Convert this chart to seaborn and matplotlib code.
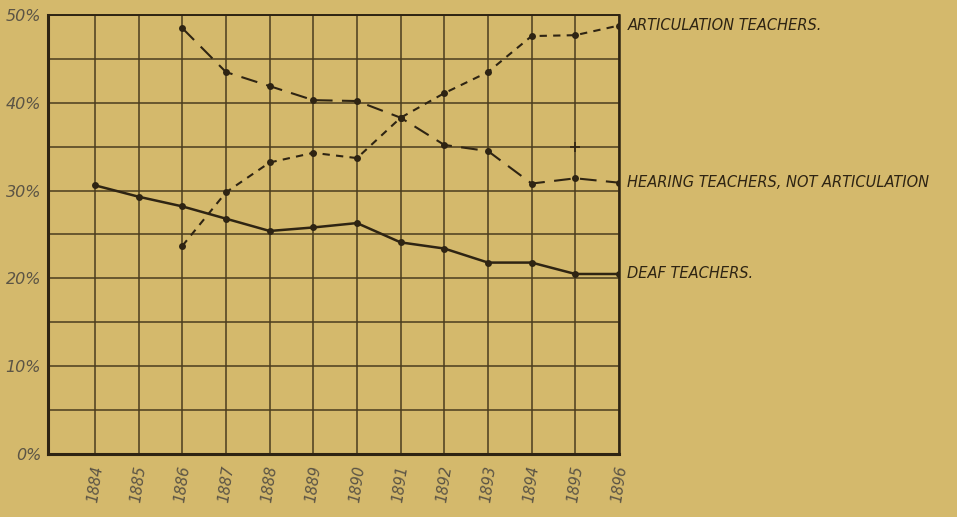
import matplotlib
matplotlib.use("Agg")
import matplotlib.pyplot as plt
import seaborn as sns
import pandas as pd

# values (percent)
years = list(range(1884, 1897))
deaf = [30.6, 29.3, 28.2, 26.8, 25.4, 25.8, 26.3, 24.1, 23.4, 21.8, 21.8, 20.5, 20.5]
hearing_years = list(range(1886, 1897))
hearing = [48.5, 43.5, 41.9, 40.3, 40.2, 38.3, 35.2, 34.5, 30.8, 31.4, 30.9]
artic_years = list(range(1886, 1897))
artic = [23.7, 29.8, 33.2, 34.3, 33.7, 38.3, 41.1, 43.5, 47.6, 47.7, 48.8]
y_labels = ["0%", "10%", "20%", "30%", "40%", "50%"]

bg = "#D4B96C"
ink = "#2e2413"
grid_c = "#4a3d1e"
txt = "#5b5445"

sns.set_theme(style="white")
plt.rcParams["font.family"] = ["DejaVu Sans"]

fig = plt.figure(figsize=(9.57, 5.17), dpi=100, facecolor=bg)
ax = fig.add_axes([0.0502, 0.1219, 0.5966, 0.8491])
ax.set_facecolor(bg)

deaf_df = pd.DataFrame({"year": years, "pct": deaf})
hear_df = pd.DataFrame({"year": hearing_years, "pct": hearing})
art_df = pd.DataFrame({"year": artic_years, "pct": artic})

sns.lineplot(data=deaf_df, x="year", y="pct", ax=ax, color=ink, lw=1.8,
             marker="o", markersize=5, markeredgewidth=0, zorder=5)
sns.lineplot(data=hear_df, x="year", y="pct", ax=ax, color=ink, lw=1.5,
             marker="o", markersize=5, markeredgewidth=0, zorder=5,
             dashes=False, linestyle=(0, (8, 4.5)))
sns.lineplot(data=art_df, x="year", y="pct", ax=ax, color=ink, lw=1.5,
             marker="o", markersize=5, markeredgewidth=0, zorder=5,
             dashes=False, linestyle=(0, (3.5, 3)))

ax.set_xlim(years[0] - 1.075, years[-1])
ax.set_ylim(0, 50)
ax.set_xticks(years)
ax.set_xticklabels([str(y) for y in years], rotation=82, fontsize=10.5,
                   style="italic", color=txt, va="top", ha="center")
ax.set_yticks(range(0, 51, 10))
ax.set_yticks(range(0, 51, 5), minor=True)
ax.set_yticklabels(y_labels, fontsize=11.5, style="italic", color=txt)
ax.tick_params(axis="both", which="both", length=0)
ax.tick_params(axis="x", pad=8)
ax.tick_params(axis="y", pad=5)
ax.grid(True, which="both", color=grid_c, lw=1.1)
ax.set_xlabel("")
ax.set_ylabel("")
for side, s in ax.spines.items():
    s.set_visible(True)
    s.set_color(ink)
    s.set_linewidth(1.4)
ax.spines["left"].set_linewidth(2.2)
ax.spines["bottom"].set_linewidth(2.2)
ax.spines["right"].set_linewidth(1.8)

# stray cross mark at 1895 near 35%
ax.plot([years[-2]], [35.0], marker="+", color=ink, markersize=7, mew=1.2)

lab_kw = dict(fontsize=10.5, style="italic", color=ink, va="center", ha="left",
              clip_on=False)
ax.annotate("ARTICULATION TEACHERS.", (artic_years[-1], artic[-1]),
            xytext=(6, 0), textcoords="offset points", **lab_kw)
ax.annotate("HEARING TEACHERS, NOT ARTICULATION", (hearing_years[-1], hearing[-1]),
            xytext=(6, 0), textcoords="offset points", **lab_kw)
ax.annotate("DEAF TEACHERS.", (years[-1], deaf[-1]),
            xytext=(6, 0), textcoords="offset points", **lab_kw)

plt.savefig("out.png", dpi=100, facecolor=bg)
plt.close()
